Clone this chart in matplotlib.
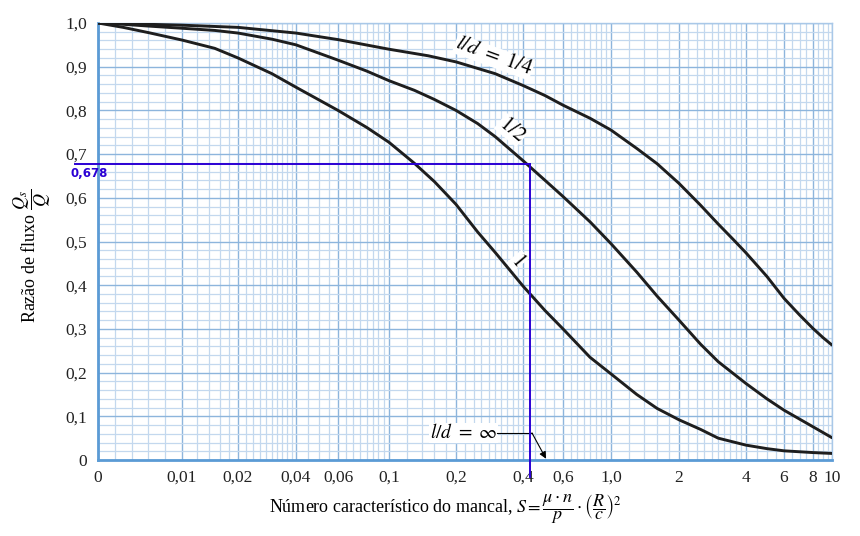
import numpy as np
import matplotlib
matplotlib.use("Agg")
import matplotlib.pyplot as plt

plt.rcParams['font.family'] = ['Liberation Serif', 'DejaVu Serif']
plt.rcParams['mathtext.fontset'] = 'stix'

# Qs/Q versus S
s_ld4 = [0, 0.003, 0.006, 0.01, 0.02, 0.04, 0.06, 0.1, 0.15, 0.2, 0.3, 0.4, 0.5, 0.6,
         0.8, 1.0, 1.3, 1.6, 2, 2.5, 3, 3.5, 4, 5, 6, 7, 8, 9, 10]
q_ld4 = [1.0, 0.999, 0.997, 0.995, 0.99, 0.977, 0.962, 0.94, 0.925, 0.911, 0.884, 0.857, 0.834, 0.812,
         0.782, 0.755, 0.713, 0.678, 0.633, 0.583, 0.54, 0.505, 0.474, 0.42, 0.37, 0.332, 0.301, 0.28, 0.263]

s_ld2 = [0, 0.003, 0.006, 0.01, 0.015, 0.02, 0.03, 0.04, 0.06, 0.08, 0.1, 0.13, 0.16, 0.2, 0.25,
         0.3, 0.4, 0.5, 0.6, 0.8, 1.0, 1.3, 1.6, 2, 2.5, 3, 4, 5, 6, 8, 10]
q_ld2 = [1.0, 0.997, 0.993, 0.988, 0.983, 0.977, 0.963, 0.95, 0.915, 0.89, 0.868, 0.846, 0.825, 0.80, 0.77,
         0.74, 0.685, 0.64, 0.603, 0.545, 0.495, 0.43, 0.375, 0.32, 0.265, 0.225, 0.175, 0.14, 0.114, 0.076, 0.051]

s_ld1 = [0, 0.003, 0.006, 0.01, 0.015, 0.02, 0.03, 0.04, 0.06, 0.08, 0.1, 0.13, 0.16, 0.2, 0.25,
         0.3, 0.4, 0.5, 0.6, 0.8, 1.0, 1.3, 1.6, 2, 2.5, 3, 4, 5, 6, 8, 10]
q_ld1 = [1.0, 0.99, 0.978, 0.961, 0.942, 0.92, 0.884, 0.853, 0.80, 0.761, 0.727, 0.679, 0.637, 0.585, 0.522,
         0.475, 0.398, 0.342, 0.30, 0.235, 0.197, 0.150, 0.118, 0.092, 0.07, 0.05, 0.034, 0.026, 0.021, 0.017, 0.015]

s_read = 0.43
q_read = 0.678

x_major = [0, 0.01, 0.02, 0.04, 0.06, 0.1, 0.2, 0.4, 0.6, 1, 2, 4, 6, 8, 10]
x_labels = ['0', '0,01', '0,02', '0,04', '0,06', '0,1', '0,2', '0,4', '0,6', '1,0', '2', '4', '6', '8', '10']
y_major = [0, 0.1, 0.2, 0.3, 0.4, 0.5, 0.6, 0.7, 0.8, 0.9, 1.0]
y_labels = ['0', '0,1', '0,2', '0,3', '0,4', '0,5', '0,6', '0,7', '0,8', '0,9', '1,0']

# chart paper scale: linear from 0 to 0.01, then log between the printed tick lines
knots = np.log10([0.01, 0.02, 0.04, 0.06, 0.1, 0.2, 0.4, 0.6, 1, 2, 4, 6, 8, 10])
kpos = [84, 140, 198, 240, 291, 358, 425, 465, 513, 581, 648, 686, 715, 734]


def fwd(x):
    x = np.asarray(x, dtype=float)
    lx = np.log10(np.clip(x, 0.01, 1e6))
    return np.where(x < 0.01, x / 0.01 * 84, np.interp(lx, knots, kpos))


def inv(p):
    p = np.asarray(p, dtype=float)
    return np.where(p < 84, p / 84 * 0.01, 10 ** np.interp(p, kpos, knots))


fig = plt.figure(figsize=(8.6, 5.36), dpi=100)
ax = fig.add_axes([98 / 860, 1 - 460 / 536, 734 / 860, 437 / 536])
ax.set_xscale('function', functions=(fwd, inv))
ax.set_xlim(0, 10)
ax.set_ylim(0, 1)

# graph paper
x_minor = list(np.arange(0.002, 0.01, 0.002))
for d in [0.01, 0.1, 1]:
    x_minor += list(np.arange(1, 2, 0.2) * d) + list(np.arange(2, 4, 0.2) * d) + list(np.arange(4, 10, 0.5) * d)
ax.set_xticks(x_major, x_labels)
ax.set_xticks(x_minor, minor=True)
ax.set_yticks(y_major, y_labels)
ax.set_yticks(np.arange(0, 1.0, 0.02), minor=True)
ax.grid(which='minor', color='#c3d8ee', lw=0.9)
ax.grid(which='major', color='#8db5dc', lw=1.0)
ax.set_axisbelow(True)
ax.tick_params(which='both', length=0, labelsize=12.5, colors='#222222')
ax.tick_params(axis='x', pad=7)
ax.tick_params(axis='y', pad=8)
for side in ['left', 'bottom']:
    ax.spines[side].set_color('#5b9bd5')
    ax.spines[side].set_linewidth(2)
for side in ['top', 'right']:
    ax.spines[side].set_color('#a9c8e8')
    ax.spines[side].set_linewidth(1)

for s, q in [(s_ld4, q_ld4), (s_ld2, q_ld2), (s_ld1, q_ld1)]:
    ax.plot(s, q, color='#1e1e1e', lw=2.1, solid_capstyle='round', solid_joinstyle='round', zorder=3)

# curve labels sit on white paper patches, under the curves
box = dict(fc='white', ec='none', pad=0.5)
ax.text(0.295, 0.922, r'$l/d\ =\ 1/4$', fontsize=15, rotation=-20, ha='center', va='center',
        bbox=box, zorder=2)
ax.text(0.355, 0.755, r'$1/2$', fontsize=15, rotation=-40, ha='center', va='center', bbox=box, zorder=2)
ax.text(0.378, 0.456, r'$1$', fontsize=15, rotation=-50, ha='center', va='center', bbox=box, zorder=2)

ax.text(0.217, 0.062, r'$l/d\ =\ \infty$', fontsize=14, ha='center', va='center', bbox=box, zorder=2)
ax.plot([0.305, 0.438], [0.062, 0.062], color='black', lw=0.8, zorder=3)
ax.annotate('', xy=(0.505, 0.003), xytext=(0.438, 0.062),
            arrowprops=dict(arrowstyle='-|>', color='black', lw=0.8, mutation_scale=10, shrinkA=0, shrinkB=0))

# reading drawn on the chart
ax.plot([-0.0027, s_read], [q_read, q_read], color='#2b00d4', lw=1.4, clip_on=False, zorder=5)
ax.plot([s_read, s_read], [q_read, -0.04], color='#2b00d4', lw=1.4, clip_on=False, zorder=5)
ax.text(-0.0011, 0.655, '0,678', color='#2b00d4', fontsize=8.5, family='DejaVu Sans',
        ha='center', va='center', fontweight='bold')

ax.set_ylabel(r'Razão de fluxo $\dfrac{Q_s}{Q}$', fontsize=13)
ax.yaxis.set_label_coords(-0.061, 0.466)
ax.set_xlabel(r'Número característico do mancal, $S = \dfrac{\mu \cdot n}{p} \cdot \left(\dfrac{R}{c}\right)^2$',
              fontsize=13)
ax.xaxis.set_label_coords(0.473, -0.075)

fig.savefig('out.png', dpi=100)
